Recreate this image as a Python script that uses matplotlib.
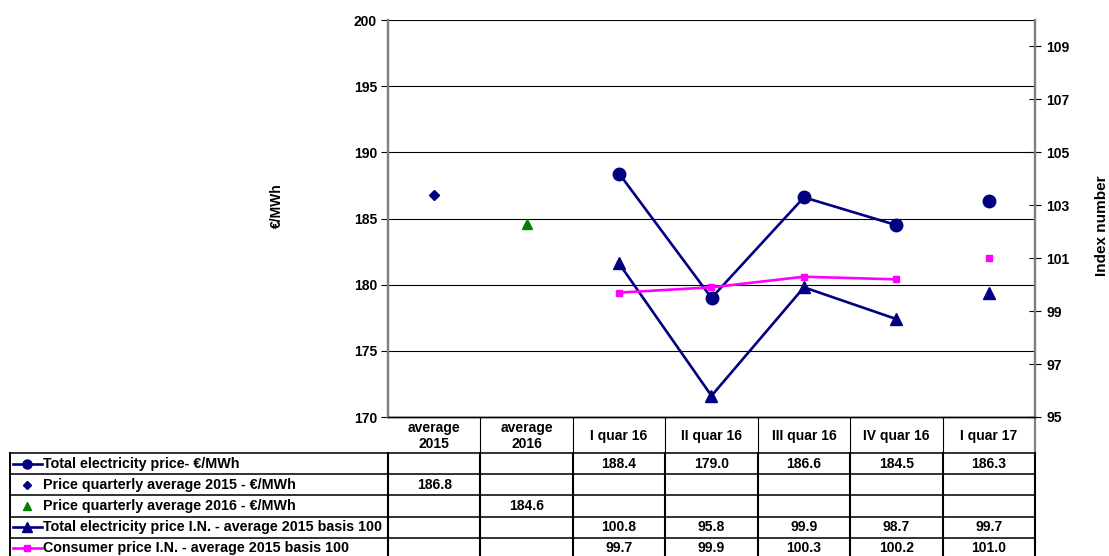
import numpy as np
import matplotlib
matplotlib.use('Agg')
import matplotlib.pyplot as plt
from matplotlib.lines import Line2D

plt.rcParams['font.family'] = ['Liberation Sans', 'DejaVu Sans']
plt.rcParams['font.weight'] = 'bold'

categories = ['average\n2015', 'average\n2016', 'I quar 16', 'II quar 16',
              'III quar 16', 'IV quar 16', 'I quar 17']
nan = np.nan
total_price = [nan, nan, 188.4, 179.0, 186.6, 184.5, 186.3]
avg_price_2015 = [186.8, nan, nan, nan, nan, nan, nan]
avg_price_2016 = [nan, 184.6, nan, nan, nan, nan, nan]
total_price_index = [nan, nan, 100.8, 95.8, 99.9, 98.7, 99.7]
consumer_index = [nan, nan, 99.7, 99.9, 100.3, 100.2, 101.0]

series_labels = ['Total electricity price- €/MWh',
                 'Price quarterly average 2015 - €/MWh',
                 'Price quarterly average 2016 - €/MWh',
                 'Total electricity price I.N. - average 2015 basis 100',
                 'Consumer price I.N. - average 2015 basis 100']

NAVY = '#000080'
GREEN = '#008000'
MAGENTA = '#FF00FF'
GREY = '#808080'

W, H = 1109, 556
fig = plt.figure(figsize=(W / 100, H / 100), dpi=100)
# plot area in pixels
px_l, px_r, px_t, px_b = 388, 1035, 20, 417
ax = fig.add_axes([px_l / W, 1 - px_b / H, (px_r - px_l) / W, (px_b - px_t) / H])
ax2 = ax.twinx()

x = np.arange(len(categories))
q = slice(2, 6)  # quarters joined by a line; the last quarter stands alone

ax.plot(x[q], total_price[q], color=NAVY, lw=1.9, marker='o', ms=9, zorder=5)
ax.plot(x[6], total_price[6], color=NAVY, marker='o', ms=9, ls='none', zorder=5)
ax.plot(x, avg_price_2015, color=NAVY, marker='D', ms=5, ls='none', zorder=5)
ax.plot(x, avg_price_2016, color=GREEN, marker='^', ms=7.5, ls='none', zorder=5)
ax2.plot(x[q], total_price_index[q], color=NAVY, lw=1.9, marker='^', ms=8, zorder=5)
ax2.plot(x[6], total_price_index[6], color=NAVY, marker='^', ms=8, ls='none', zorder=5)
ax2.plot(x[q], consumer_index[q], color=MAGENTA, lw=1.9, marker='s', ms=5, zorder=5)
ax2.plot(x[6], consumer_index[6], color=MAGENTA, marker='s', ms=5, ls='none', zorder=5)

ax.set_xlim(-0.5, len(categories) - 0.5)
ax.set_ylim(170, 200)
ax.set_yticks(np.arange(170, 201, 5))
ax2.set_ylim(95, 110)
ax2.set_yticks(np.arange(95, 110, 2))
ax.set_xticks([])

ax.yaxis.grid(True, color='black', lw=0.8)
ax.set_axisbelow(True)
ax.tick_params(axis='y', direction='out', length=5, width=0.8, labelsize=10, pad=3)
ax2.tick_params(axis='y', direction='inout', length=8, width=0.8, labelsize=10, pad=4)
for a in (ax, ax2):
    a.spines['top'].set_visible(False)
    a.spines['bottom'].set_color('black')
    a.spines['bottom'].set_linewidth(1.0)
    a.spines['left'].set_color(GREY)
    a.spines['left'].set_linewidth(1.6)
    a.spines['right'].set_color(GREY)
    a.spines['right'].set_linewidth(1.6)
    for lab in a.get_yticklabels():
        lab.set_fontweight('bold')

fig.text(277 / W, 1 - 206 / H, '€/MWh', rotation=90, ha='center', va='center',
         fontsize=10, fontweight='bold')
fig.text(1102 / W, 1 - 226 / H, 'Index number', rotation=90, ha='center', va='center',
         fontsize=11, fontweight='bold')

# data table under the plot, in axes fractions
pw, ph = px_r - px_l, px_b - px_t
def fx(px):
    return (px - px_l) / pw
def fy(py):
    return (px_b - py) / ph

col_edges = [i / len(categories) for i in range(len(categories) + 1)]
header_bottom = 453
row_h = 21.2
row_edges = [header_bottom + i * row_h for i in range(len(series_labels) + 1)]
legend_left = 10

def hline(x0, x1, py, color='black', lw=1.0):
    ax.add_line(Line2D([x0, x1], [fy(py), fy(py)], transform=ax.transAxes,
                       color=color, lw=lw, clip_on=False))
def vline(xa, py0, py1, color='black', lw=1.0):
    ax.add_line(Line2D([xa, xa], [fy(py0), fy(py1)], transform=ax.transAxes,
                       color=color, lw=lw, clip_on=False))

# header row
for c in col_edges[1:-1]:
    vline(c, px_b, header_bottom, lw=0.8)
vline(1, px_b, header_bottom, color=GREY, lw=1.6)
for i, cat in enumerate(categories):
    ax.text((col_edges[i] + col_edges[i + 1]) / 2, fy((px_b + header_bottom) / 2 + 1), cat,
            transform=ax.transAxes, ha='center', va='center', fontsize=10,
            fontweight='bold', linespacing=1.1)

# body rows
for py in row_edges:
    hline(fx(legend_left), 1, py, color='#222222', lw=1.3)
vline(fx(legend_left), header_bottom, H + 5, lw=1.4)
for c in col_edges:
    vline(c, header_bottom, H + 5, lw=1.5)

legend_styles = [
    dict(color=NAVY, marker='o', ms=6.5, lw=1.9, line=True),
    dict(color=NAVY, marker='D', ms=4.5, lw=0, line=False),
    dict(color=GREEN, marker='^', ms=6, lw=0, line=False),
    dict(color=NAVY, marker='^', ms=6.5, lw=1.9, line=True),
    dict(color=MAGENTA, marker='s', ms=4.5, lw=1.9, line=True),
]
row_values = [total_price, avg_price_2015, avg_price_2016, total_price_index, consumer_index]
for r, (label, style, vals) in enumerate(zip(series_labels, legend_styles, row_values)):
    yc = fy(row_edges[r] + row_h / 2)
    if style['line']:
        ax.add_line(Line2D([fx(13), fx(42)], [yc, yc], transform=ax.transAxes,
                           color=style['color'], lw=style['lw'], clip_on=False))
    ax.add_line(Line2D([fx(27)], [yc], transform=ax.transAxes, color=style['color'],
                       marker=style['marker'], ms=style['ms'], ls='none', clip_on=False))
    ax.text(fx(43), yc, label, transform=ax.transAxes, ha='left', va='center',
            fontsize=10.3, fontweight='bold')
    for i, v in enumerate(vals):
        if not np.isnan(v):
            ax.text((col_edges[i] + col_edges[i + 1]) / 2, yc, f'{v:.1f}',
                    transform=ax.transAxes, ha='center', va='center',
                    fontsize=10, fontweight='bold')

fig.savefig('out.png', dpi=100)
